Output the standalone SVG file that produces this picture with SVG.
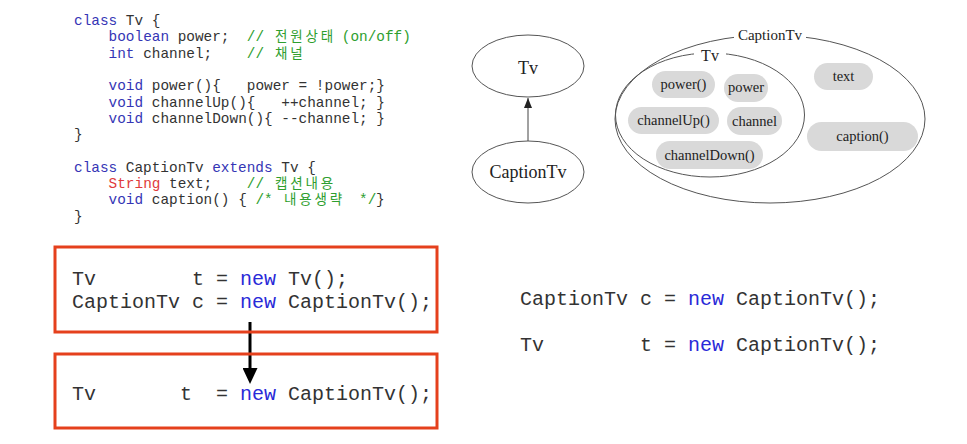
<svg xmlns="http://www.w3.org/2000/svg" width="967" height="444" viewBox="0 0 967 444">
<style>
.code{font-family:"Liberation Mono","Noto Sans CJK KR",monospace;font-size:14.4px;fill:#333;white-space:pre}
.big{font-family:"Liberation Mono","Noto Sans CJK KR",monospace;font-size:20px;fill:#333;white-space:pre}
.kw{fill:#3535b5}
.cm{fill:#2e9e2e}
.ko{font-family:"Noto Sans CJK KR",sans-serif;font-size:13.5px;letter-spacing:2.8px}
.str{fill:#e03a3a}
.nw{fill:#2a2ad8}
.serif{font-family:"Liberation Serif",serif;fill:#222;text-anchor:middle}
.node{fill:#fff;stroke:#555;stroke-width:1}
.pill{fill:#d9d9d9}
.redbox{fill:none;stroke:#e5401c;stroke-width:3}
.lbl{fill:#fff}
</style>
<defs>
<marker id="ahSmall" markerUnits="userSpaceOnUse" viewBox="0 0 10 8" refX="10" refY="4" markerWidth="10" markerHeight="8" orient="auto"><path d="M0,0 L10,4 L0,8 z" fill="#222"/></marker>
<marker id="ahBig" markerUnits="userSpaceOnUse" viewBox="0 0 16 15" refX="12" refY="7.5" markerWidth="16" markerHeight="15" orient="auto"><path d="M0,0 L16,7.5 L0,15 z" fill="#000"/></marker>
</defs>
<rect width="967" height="444" fill="#fff"/>

<g id="code-block">
<text class="code" x="74" y="25"><tspan class="kw">class</tspan> Tv {</text>
<text class="code" y="41.3"><tspan x="108.6" class="kw">boolean</tspan> power;<tspan x="246.8" class="cm">//</tspan><tspan x="275" class="cm ko">전원상태</tspan><tspan x="341.8" class="cm">(on/off)</tspan></text>
<text class="code" y="57.6"><tspan x="108.6" class="kw">int</tspan> channel;<tspan x="246.8" class="cm">//</tspan><tspan x="275" class="cm ko">채널</tspan></text>
<text class="code" x="108.6" y="90.2"><tspan class="kw">void</tspan> power(){   power = !power;}</text>
<text class="code" x="108.6" y="106.5"><tspan class="kw">void</tspan> channelUp(){   ++channel; }</text>
<text class="code" x="108.6" y="122.8"><tspan class="kw">void</tspan> channelDown(){ --channel; }</text>
<text class="code" x="74" y="139.1">}</text>
<text class="code" x="74" y="171.7"><tspan class="kw">class</tspan> CaptionTv <tspan class="kw">extends</tspan> Tv {</text>
<text class="code" y="188"><tspan x="108.6" class="str">String</tspan> text;<tspan x="246.8" class="cm">//</tspan><tspan x="275" class="cm ko">캡션내용</tspan></text>
<text class="code" y="204.3"><tspan x="108.6" class="kw">void</tspan> caption() {<tspan x="255.4" class="cm">/*</tspan><tspan x="284" class="cm ko">내용생략</tspan><tspan x="359" class="cm">*/</tspan><tspan x="376">}</tspan></text>
<text class="code" x="74" y="220.6">}</text>
</g>

<g id="node-tv">
<ellipse class="node" cx="528" cy="66" rx="56" ry="31"/>
<text class="serif" x="528" y="74" font-size="18">Tv</text>
</g>
<g id="node-captiontv">
<ellipse class="node" cx="528" cy="172" rx="56" ry="31"/>
<text class="serif" x="528" y="178" font-size="18">CaptionTv</text>
</g>

<g id="connectors">
<line x1="528" y1="141" x2="528" y2="98" stroke="#444" stroke-width="1" marker-end="url(#ahSmall)"/>
<line x1="250" y1="322" x2="250" y2="380" stroke="#000" stroke-width="3" marker-end="url(#ahBig)"/>
</g>

<g id="set-captiontv">
<ellipse class="node" cx="770" cy="119" rx="155" ry="84"/>
<rect class="lbl" x="734" y="26" width="72" height="18"/>
<text class="serif" x="770" y="40" font-size="15">CaptionTv</text>
</g>
<g id="set-tv">
<ellipse class="node" cx="710" cy="115" rx="94.5" ry="62" style="fill:none"/>
<rect class="lbl" x="694" y="48" width="32" height="16"/>
<text class="serif" x="710" y="61" font-size="16">Tv</text>
</g>
<g id="pill-power-method"><rect class="pill" x="652" y="71" width="63" height="27" rx="13.5"/><text class="serif" x="683.5" y="89" font-size="14.5">power()</text></g>
<g id="pill-power"><rect class="pill" x="724" y="74" width="44" height="28" rx="14"/><text class="serif" x="746" y="92" font-size="14.5">power</text></g>
<g id="pill-channelup"><rect class="pill" x="628" y="107" width="91" height="27" rx="13.5"/><text class="serif" x="673.5" y="125" font-size="14.5">channelUp()</text></g>
<g id="pill-channel"><rect class="pill" x="727" y="107" width="55" height="28" rx="14"/><text class="serif" x="754.5" y="125.5" font-size="14.5">channel</text></g>
<g id="pill-channeldown"><rect class="pill" x="656" y="141" width="107" height="28" rx="14"/><text class="serif" x="709.5" y="159.5" font-size="14.5">channelDown()</text></g>
<g id="pill-text"><rect class="pill" x="814" y="63" width="59" height="27" rx="13.5"/><text class="serif" x="843.5" y="81" font-size="14.5">text</text></g>
<g id="pill-caption"><rect class="pill" x="807" y="122" width="111" height="29" rx="14.5"/><text class="serif" x="862.5" y="141" font-size="14.5">caption()</text></g>

<g id="box-before">
<rect class="redbox" x="55" y="247" width="382" height="85"/>
<text class="big" x="72" y="285">Tv        t = <tspan class="nw">new</tspan> Tv();</text>
<text class="big" x="72" y="308">CaptionTv c = <tspan class="nw">new</tspan> CaptionTv();</text>
</g>
<g id="box-after">
<rect class="redbox" x="55" y="354" width="382" height="74"/>
<text class="big" x="72" y="400">Tv       t  = <tspan class="nw">new</tspan> CaptionTv();</text>
</g>

<g id="right-code">
<text class="big" x="520" y="305">CaptionTv c = <tspan class="nw">new</tspan> CaptionTv();</text>
<text class="big" x="520" y="351">Tv        t = <tspan class="nw">new</tspan> CaptionTv();</text>
</g>
</svg>
